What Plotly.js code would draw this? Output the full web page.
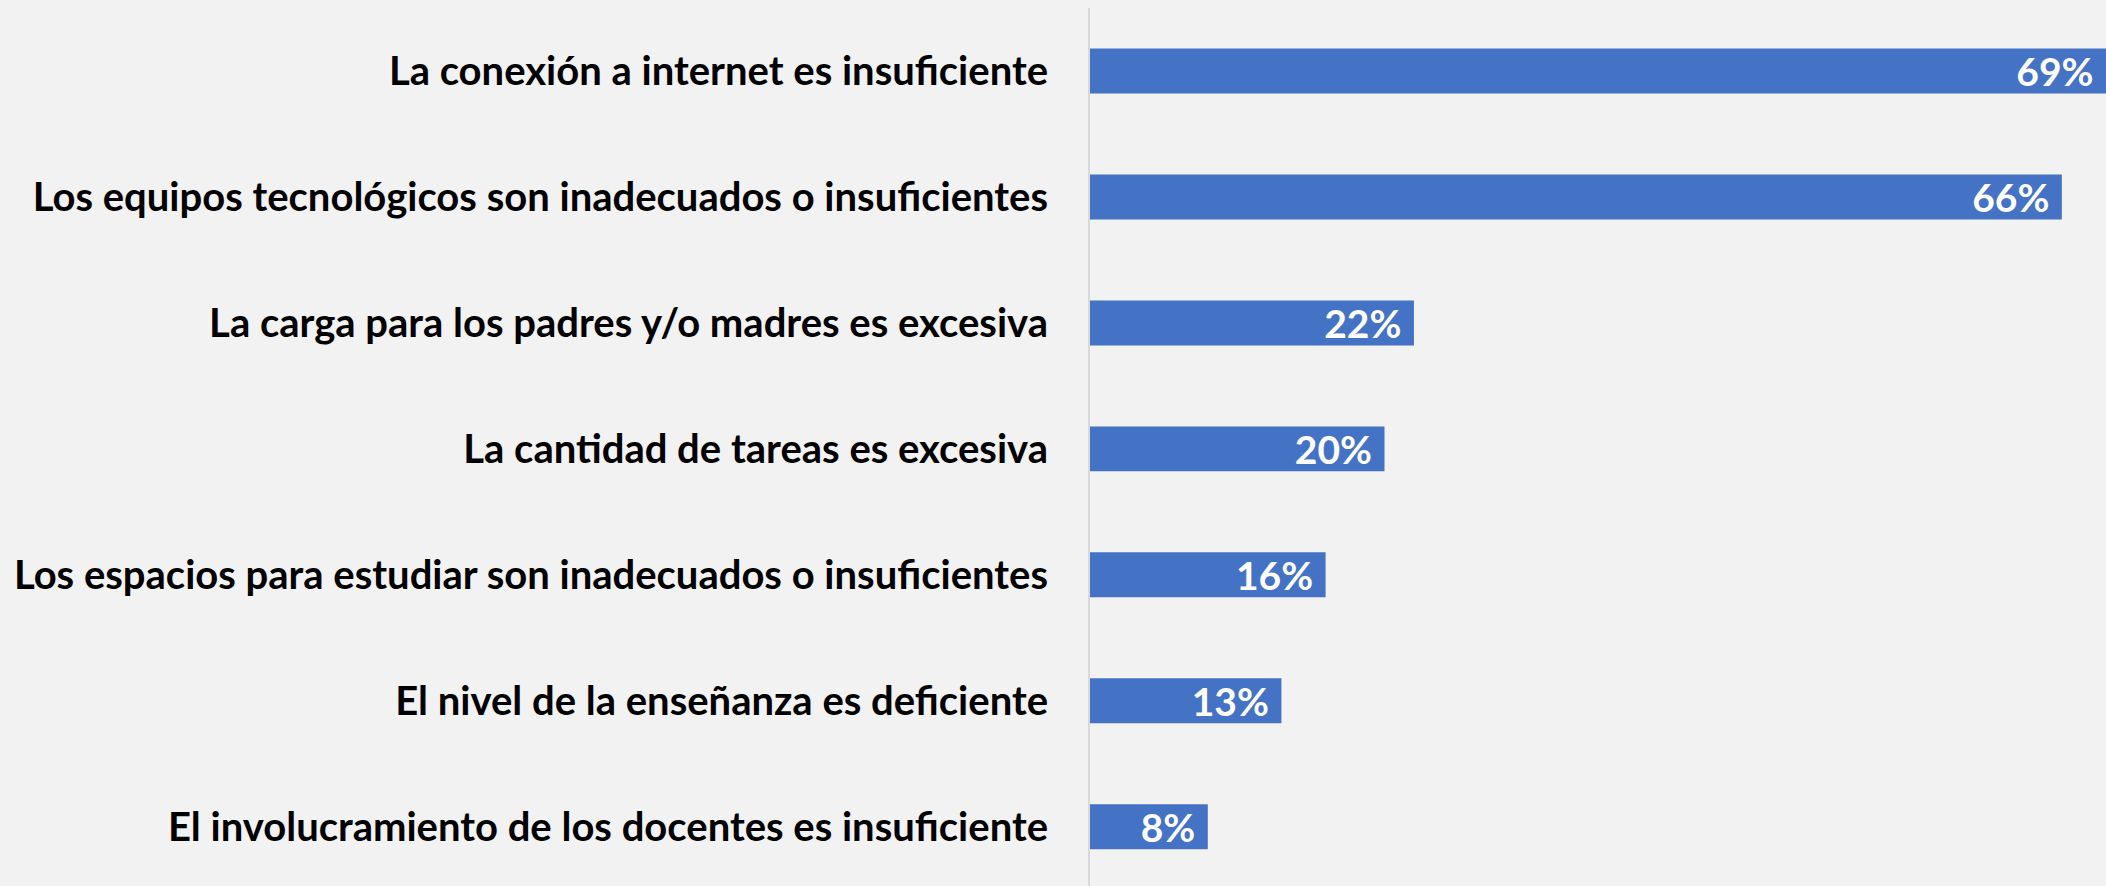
<!DOCTYPE html>
<html>
<head>
<meta charset="utf-8">
<script src="https://cdn.plot.ly/plotly-3.0.1.min.js"></script>
<style>
  html, body { margin: 0; padding: 0; background: #f2f2f2; }
  #chart { width: 2106px; height: 886px; }
</style>
</head>
<body>
<div id="chart"></div>
<script>
// problemas de la educación a distancia, de mayor a menor
let categorias = [
    'La conexión a internet es insuficiente',
    'Los equipos tecnológicos son inadecuados o insuficientes',
    'La carga para los padres y/o madres es excesiva',
    'La cantidad de tareas es excesiva',
    'Los espacios para estudiar son inadecuados o insuficientes',
    'El nivel de la enseñanza es deficiente',
    'El involucramiento de los docentes es insuficiente'
];
let porcentajes = [69, 66, 22, 20, 16, 13, 8];

let trace = {
    type: 'bar',
    orientation: 'h',
    x: porcentajes,
    y: categorias,
    marker: { color: '#4472c4' },
    texttemplate: '%{x}%\u00a0',
    textposition: 'inside',
    insidetextanchor: 'end',
    constraintext: 'none',
    textfont: { family: 'Lato', size: 39, color: '#ffffff', weight: 'bold' },
    hoverinfo: 'none'
};

let layout = {
    width: 2106,
    height: 886,
    margin: { l: 1090, r: 0, t: 8, b: 0 },
    paper_bgcolor: '#f2f2f2',
    plot_bgcolor: '#f2f2f2',
    bargap: 0.643,
    showlegend: false,
    xaxis: {
        range: [0, 69],
        showgrid: false,
        zeroline: false,
        showticklabels: false,
        showline: false
    },
    yaxis: {
        type: 'category',
        range: [6.47, -0.5],
        showgrid: false,
        zeroline: false,
        showline: true,
        linecolor: '#d9d9d9',
        linewidth: 2,
        ticks: '',
        ticklabelstandoff: 32,
        tickfont: { family: 'Lato', size: 40, color: '#000000', weight: 'bold' }
    }
};

Plotly.newPlot('chart', [trace], layout, { staticPlot: true });
</script>
</body>
</html>
